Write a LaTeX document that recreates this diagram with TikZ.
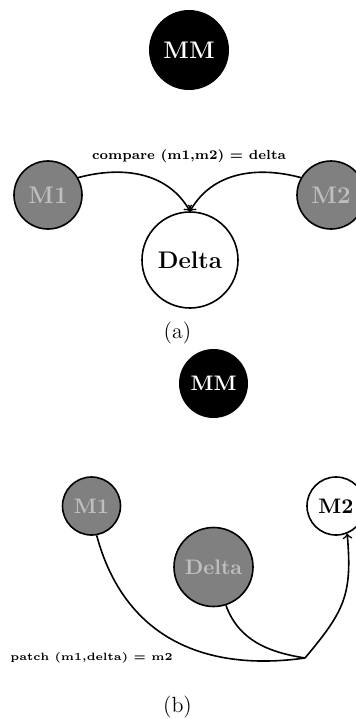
\documentclass[tikz,border=0pt]{standalone}
\usetikzlibrary{positioning}
\tikzset{>=to}
\tikzset{vert/.style={draw,circle,thick,inner sep=0pt,font=\large\bfseries}}
\tikzset{greyvert/.style={vert,fill=gray,text=lightgray}}
\tikzset{topvert/.style={circle,fill=black,text=white,inner sep=0pt,font=\large\bfseries}}
\tikzset{ed/.style={inner sep=1pt,font=\fontsize{6.6}{8}\selectfont\bfseries}}
\tikzset{captext/.style={font=\fontsize{11}{13}\selectfont}}
\newcommand{\smallb}{\fontsize{10.5}{12}\selectfont\bfseries}

\begin{document}
\begin{tikzpicture}
\useasboundingbox (0,0) rectangle (177.5pt,-359.5pt);
\begin{scope}[on grid]

%%% (a):

\node[topvert, minimum size=40pt] (MMa) at (94.5pt,-25pt) {MM};
\node[vert, minimum size=48pt] (Da) at (95pt,-130pt) {Delta};
\node[greyvert, minimum size=34pt] (M1a) [above left = 32.5pt and 71pt of Da] {M1};
\node[greyvert, minimum size=34pt] (M2a) [above right = 32.5pt and 70.5pt of Da] {M2};

\draw[->, thick] (M1a.30) to[out=15, in=120] (Da.north);
\draw[->, thick] (M2a.150) to[out=165, in=60] (Da.north);

\node[ed] (cmp) at (94.5pt,-78pt) {compare (m1,m2) = delta};
\node[captext] (capa) at (88.75pt,-166.5pt) {(a)};

%%% (b):

\node[topvert, minimum size=34.5pt, font=\smallb] (MMb) at (106.75pt,-191.75pt) {MM};
\node[greyvert, minimum size=39.5pt, font=\smallb] (Db) at (106.75pt,-283.5pt) {Delta};
\node[greyvert, minimum size=29pt, font=\smallb] (M1b) [above left = 30.5pt and 61pt of Db] {M1};
\node[vert, minimum size=29pt, font=\smallb] (M2b) [above right = 30.5pt and 61.25pt of Db] {M2};

\coordinate (join) at (152.5pt,-329pt);

\draw[thick] (M1b.-80) to[out=-75, in=188, looseness=1.1] (join);
\draw[thick] (Db.-72) to[out=-70, in=171] (join);
\draw[->, thick] (join) to[out=50, in=-85, looseness=1.2] (M2b.-68);

\node[ed, font=\fontsize{5.3}{6}\selectfont\bfseries] (patch) at (45.75pt,-329pt) {patch (m1,delta) = m2};
\node[captext] (capb) at (88.75pt,-353.5pt) {(b)};

\end{scope}
\end{tikzpicture}
\end{document}
